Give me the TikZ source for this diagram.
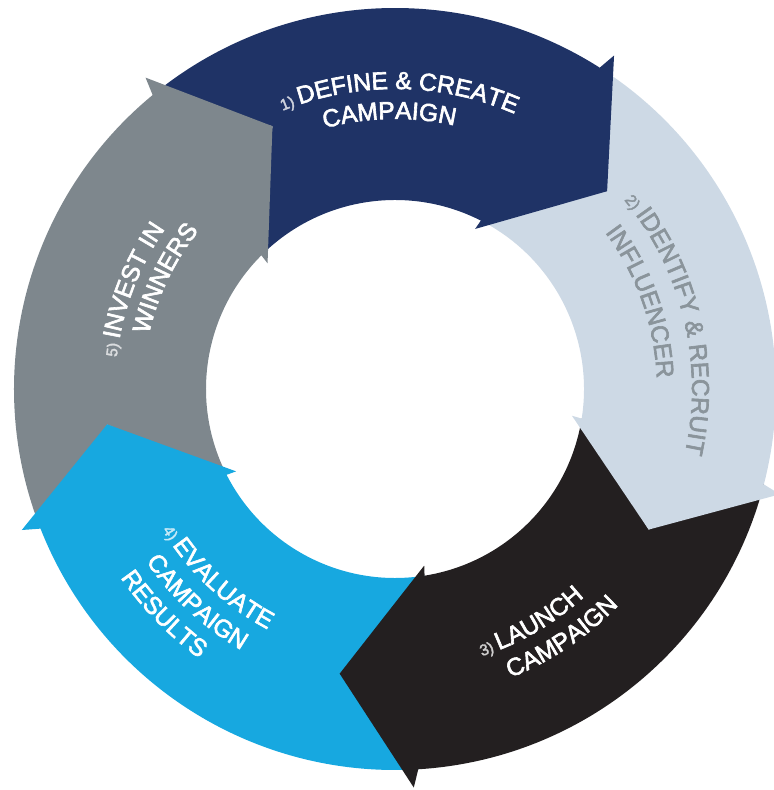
\documentclass[tikz,border=0pt]{standalone}
\usepackage{fontspec}
\setmainfont{Liberation Sans}
\newfontfamily\lblfont{Liberation Sans}[FakeBold=2.5]
\usetikzlibrary{decorations.text}
\definecolor{navy}{RGB}{31,51,102}
\definecolor{pale}{RGB}{205,217,229}
\definecolor{ink}{RGB}{35,31,32}
\definecolor{sky}{RGB}{23,168,224}
\definecolor{slate}{RGB}{126,135,141}
\definecolor{paletext}{RGB}{138,148,155}
\colorlet{numA}{white!78!navy}
\colorlet{numC}{white!78!ink}
\colorlet{numD}{white!75!sky}
\colorlet{numE}{white!72!slate}
\newcommand\numsz{\lblfont\fontsize{7.8}{9}\selectfont}
\newcommand\lblsz{\lblfont\fontsize{12.3}{14}\selectfont}
\begin{document}
\begin{tikzpicture}[x=0.5pt,y=0.5pt]
\useasboundingbox (-395,-401) rectangle (378,389);
% ring bodies (each with notch at its tail)
\foreach \p/\col in {43/navy,-29/pale,-101/ink,-173/sky,115/slate}{
  \pgfmathsetmacro\q{\p+72}
  \fill[\col] ({\q+14.5}:381) arc[start angle=\q+14.5, end angle=\p+14.5, radius=190.5pt]
     -- (\p:290) -- ({\p+20}:189)
     arc[start angle=\p+20, end angle=\q+20, radius=94.5pt]
     -- (\q:290) -- cycle;
}
% arrow heads with barbs
\foreach \p/\col in {43/navy,-29/pale,-101/ink,-173/sky,115/slate}{
  \fill[\col] ({\p+14.5}:381) -- ({\p+13.7}:399) -- (\p:290)
     -- ({\p+20.4}:179) -- ({\p+20}:189) -- cycle;
}
% 1
\path[decorate, decoration={text along path,
  text={|\numsz\color{numA}|1) |\lblsz\color{white}|DEFINE {\&} CREATE}}]
  (112:300) arc[start angle=112, end angle=20, radius=150pt];
\path[decorate, decoration={text along path,
  text={|\lblsz\color{white}|CAMPAIGN}}]
  (105.1:270) arc[start angle=105.1, end angle=20, radius=135pt];
% 2
\path[decorate, decoration={text along path,
  text={|\numsz\color{paletext}|2) |\lblsz\color{paletext}|IDENTIFY {\&} RECRUIT}}]
  (39.5:297) arc[start angle=39.5, end angle=-50, radius=148.5pt];
\path[decorate, decoration={text along path,
  text={|\lblsz\color{paletext}|INFLUENCER}}]
  (36.7:262) arc[start angle=36.7, end angle=-50, radius=131pt];
% 3
\path[decorate, decoration={text along path,
  text={|\numsz\color{numC}|3) |\lblsz\color{white}|LAUNCH}}]
  (-72:281) arc[start angle=-72, end angle=10, radius=140.5pt];
\path[decorate, decoration={text along path,
  text={|\lblsz\color{white}|CAMPAIGN}}]
  (-68.2:311) arc[start angle=-68.2, end angle=10, radius=155.5pt];
% 4
\path[decorate, decoration={text along path,
  text={|\numsz\color{numD}|4) |\lblsz\color{white}|EVALUATE}}]
  (211.2:272) arc[start angle=211.2, end angle=290, radius=136pt];
\path[decorate, decoration={text along path,
  text={|\lblsz\color{white}|CAMPAIGN}}]
  (214.7:303) arc[start angle=214.7, end angle=290, radius=151.5pt];
\path[decorate, decoration={text along path,
  text={|\lblsz\color{white}|RESULTS}}]
  (214.5:333) arc[start angle=214.5, end angle=290, radius=166.5pt];
% 5
\path[decorate, decoration={text along path,
  text={|\numsz\color{numE}|5) |\lblsz\color{white}|INVEST IN}}]
  (173.5:280) arc[start angle=173.5, end angle=90, radius=140pt];
\path[decorate, decoration={text along path,
  text={|\lblsz\color{white}|WINNERS}}]
  (167.5:252) arc[start angle=167.5, end angle=90, radius=126pt];
\end{tikzpicture}
\end{document}
